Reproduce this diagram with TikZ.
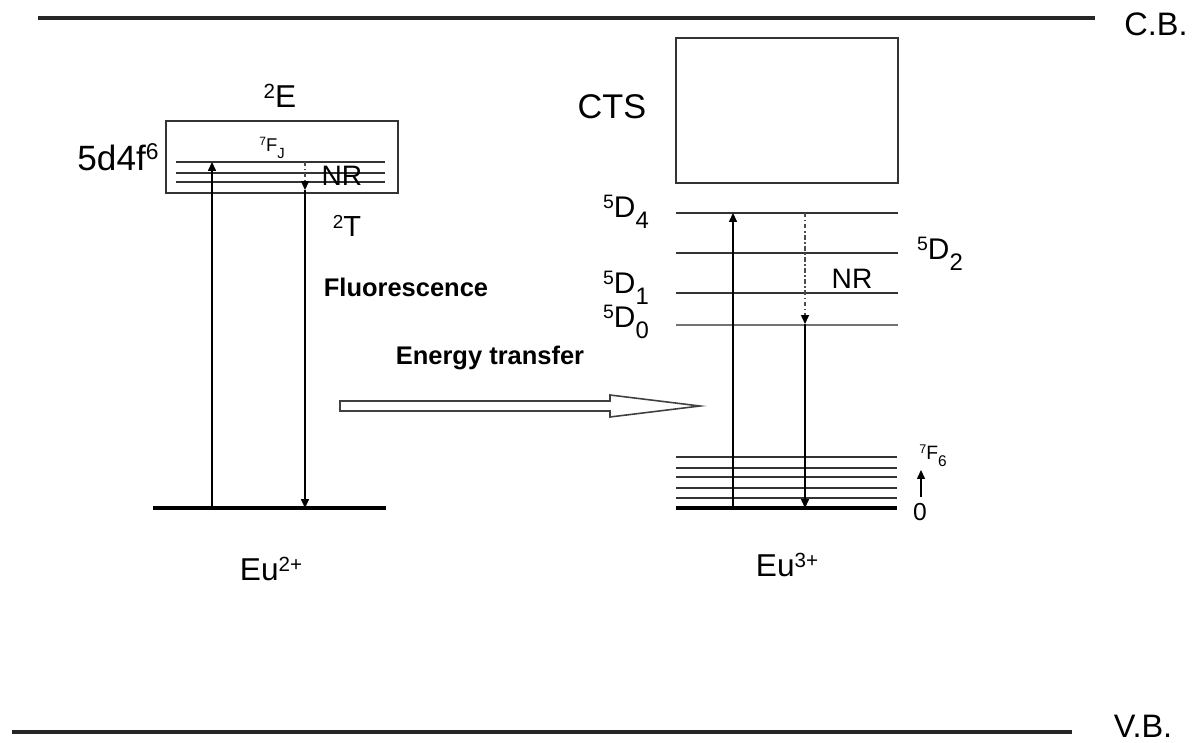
\documentclass[tikz,border=0pt]{standalone}
\usepackage{fontspec}
\setmainfont{Liberation Sans}
\usetikzlibrary{arrows.meta}
\newcommand{\fs}[1]{\fontsize{#1}{#1}\selectfont}
\newcommand{\su}[1]{\raisebox{0.3em}{\scalebox{0.65}{#1}}}
\newcommand{\sd}[1]{\raisebox{-0.36em}{\scalebox{0.8}{#1}}}
\begin{document}
\begin{tikzpicture}[x=0.02cm,y=-0.02cm,
  band/.style={line width=2pt,draw=black!85},
  level/.style={line width=1pt,draw=black!80},
  ground/.style={line width=2.8pt},
  boxst/.style={draw=black!80,line width=0.9pt},
  trans/.style={line width=0.7pt,-{Triangle[length=5pt,width=4.5pt]}},
  nrdash/.style={line width=0.6pt,draw=black!70,dash pattern=on 2.5pt off 1.5pt on 0.8pt off 1.5pt,-{Triangle[length=5pt,width=4.5pt,color=black,fill=black]}},
  lbl/.style={inner sep=0pt,font=\fs{18}},
  every node/.style={inner sep=0pt}]
\useasboundingbox (0,0) rectangle (1194,743);
% bands
\coordinate (cbL) at (38,18); \coordinate (cbR) at (1095,18);
\coordinate (vbL) at (12,732); \coordinate (vbR) at (1072,732);
\draw[band] (cbL) -- (cbR);
\draw[band] (vbL) -- (vbR);
\node[lbl,font=\fs{18.5}] (cb) at (1156,24) {C.B.};
\node[lbl,font=\fs{18.5}] (vb) at (1143,726) {V.B.};
% Eu2+ side
\draw[boxst] (166,121) rectangle (398,193);
\coordinate (fa1) at (176,162); \coordinate (fb1) at (385,162);
\coordinate (fa2) at (176,173); \coordinate (fb2) at (385,173);
\coordinate (fa3) at (176,182); \coordinate (fb3) at (385,182);
\draw[level] (fa1) -- (fb1);
\draw[level] (fa2) -- (fb2);
\draw[level] (fa3) -- (fb3);
\coordinate (gLa) at (153,508); \coordinate (gLb) at (386,508);
\draw[ground] (gLa) -- (gLb);
\coordinate (upLs) at (212,508); \coordinate (upLe) at (212,162);
\draw[trans] (upLs) -- (upLe);
\coordinate (nrLs) at (305,162); \coordinate (nrLe) at (305,190);
\draw[nrdash] (nrLs) -- (nrLe);
\coordinate (flLe) at (305,508);
\draw[trans] (nrLe) -- (flLe);
\node[lbl] (E2) at (280,96) {\su{2}E};
\node[lbl,font=\fs{20}] (conf) at (118,157) {5d4f\su{6}};
\node[lbl,font=\fs{10.5}] (FJ) at (272,148) {\su{7}F\sd{J}};
\node[lbl,font=\fs{16}] (nrL) at (342,176) {NR};
\node[lbl,font=\fs{16.5}] (T2) at (347,226) {\su{2}T};
\node[lbl,font=\bfseries\fs{14.5}] (fluo) at (406,287) {Fluorescence};
\node[lbl,font=\bfseries\fs{14.5}] (et) at (490,358) {Energy transfer};
\node[lbl] (eu2) at (271,569) {Eu\su{2+}};
% energy transfer arrow
\draw[line width=0.9pt,draw=black!75,fill=white] (340,401) -- (610,401) -- (610,395) -- (700,406) -- (610,417) -- (610,411) -- (340,411) -- cycle;
% Eu3+ side
\draw[boxst,line width=1.4pt] (676,38) rectangle (898,183);
\node[lbl,font=\fs{19.5}] (cts) at (612,107) {CTS};
\coordinate (d4a) at (676,213); \coordinate (d4b) at (898,213);
\coordinate (d2a) at (676,253); \coordinate (d2b) at (898,253);
\coordinate (d1a) at (676,293); \coordinate (d1b) at (898,293);
\coordinate (d0a) at (676,325); \coordinate (d0b) at (898,325);
\draw[level] (d4a) -- (d4b);
\draw[level] (d2a) -- (d2b);
\draw[level] (d1a) -- (d1b);
\draw[level,draw=black!55,line width=1.3pt] (d0a) -- (d0b);
\foreach \y/\n in {457/1,468/2,477/3,488/4,498/5}{
  \coordinate (f\n a) at (676,\y); \coordinate (f\n b) at (897,\y);
  \draw[level] (f\n a) -- (f\n b);
}
\coordinate (gRa) at (676,508); \coordinate (gRb) at (897,508);
\draw[ground] (gRa) -- (gRb);
\coordinate (upRs) at (733,508); \coordinate (upRe) at (733,213);
\draw[trans] (upRs) -- (upRe);
\coordinate (nrRs) at (805,213); \coordinate (nrRe) at (805,324);
\draw[nrdash] (nrRs) -- (nrRe);
\coordinate (emRe) at (805,508);
\draw[trans] (nrRe) -- (emRe);
\node[lbl,font=\fs{17}] (D4) at (626,212) {\su{5}D\sd{4}};
\node[lbl,font=\fs{17}] (D2) at (940,254) {\su{5}D\sd{2}};
\node[lbl,font=\fs{17}] (D1) at (626,288) {\su{5}D\sd{1}};
\node[lbl,font=\fs{17}] (D0) at (626,322) {\su{5}D\sd{0}};
\node[lbl,font=\fs{16}] (nrR) at (852,279) {NR};
\node[lbl,font=\fs{11}] (F6) at (933,456) {\su{7}F\sd{6}};
\node[lbl,font=\fs{14}] (zero) at (920,512) {0};
\coordinate (saS) at (921,497); \coordinate (saE) at (921,470);
\draw[trans,line width=0.6pt] (saS) -- (saE);
\node[lbl] (eu3) at (787,565) {Eu\su{3+}};
\end{tikzpicture}
\end{document}
